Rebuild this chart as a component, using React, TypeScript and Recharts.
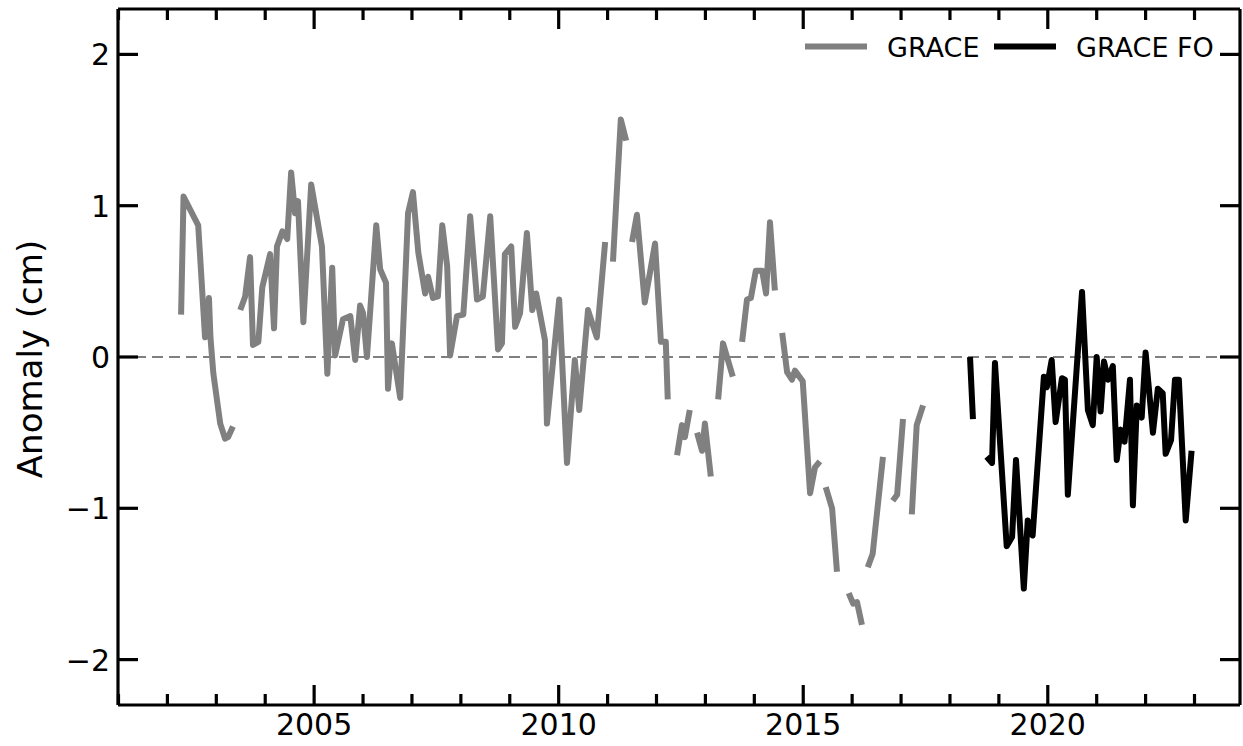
import { LineChart, Line, XAxis, YAxis, ReferenceLine, Legend, Label } from 'recharts'

const FONT = 'DejaVu Sans, Verdana, sans-serif'
const GREY = '#808080'
const MAJOR = 20
const MINOR = 11
const TICK_W = 3.2
const LINE_W = 6

// GRACE anomaly (cm), one array per unbroken run of months
const graceSegments: [number, number][][] = [
  [[2002.28, 0.28], [2002.33, 1.06], [2002.63, 0.87], [2002.77, 0.13], [2002.85, 0.39], [2002.88, 0.13],
    [2002.94, -0.11], [2003.08, -0.44], [2003.18, -0.54], [2003.24, -0.53], [2003.34, -0.46]],
  [[2003.49, 0.31], [2003.59, 0.40], [2003.69, 0.66], [2003.75, 0.08], [2003.86, 0.10], [2003.94, 0.46],
    [2004.10, 0.68], [2004.18, 0.19], [2004.24, 0.73], [2004.35, 0.83], [2004.45, 0.78], [2004.53, 1.22],
    [2004.61, 0.95], [2004.67, 1.03], [2004.78, 0.23], [2004.94, 1.14], [2005.16, 0.73], [2005.27, -0.11],
    [2005.37, 0.59], [2005.43, 0.01], [2005.59, 0.25], [2005.74, 0.27], [2005.84, -0.02], [2005.94, 0.34],
    [2006.00, 0.29], [2006.08, 0.00], [2006.27, 0.87], [2006.35, 0.58], [2006.47, 0.49], [2006.51, -0.21],
    [2006.59, 0.09], [2006.76, -0.27], [2006.92, 0.95], [2007.02, 1.09], [2007.13, 0.69], [2007.27, 0.42],
    [2007.33, 0.53], [2007.43, 0.39], [2007.53, 0.40], [2007.62, 0.87], [2007.72, 0.60], [2007.78, 0.01],
    [2007.92, 0.27], [2008.05, 0.28], [2008.19, 0.93], [2008.33, 0.38], [2008.45, 0.40], [2008.60, 0.93],
    [2008.76, 0.05], [2008.84, 0.09], [2008.90, 0.68], [2009.03, 0.73], [2009.11, 0.20], [2009.21, 0.29],
    [2009.35, 0.82], [2009.46, 0.31], [2009.54, 0.42], [2009.72, 0.11], [2009.76, -0.44], [2010.01, 0.38],
    [2010.17, -0.70], [2010.33, -0.02], [2010.42, -0.35], [2010.60, 0.31], [2010.78, 0.13], [2010.95, 0.76]],
  [[2011.11, 0.63], [2011.27, 1.57], [2011.38, 1.43]],
  [[2011.50, 0.76], [2011.60, 0.94], [2011.76, 0.36], [2011.97, 0.75], [2012.09, 0.10], [2012.19, 0.10],
    [2012.23, -0.28]],
  [[2012.42, -0.65], [2012.52, -0.45], [2012.58, -0.53], [2012.68, -0.35]],
  [[2012.83, -0.50], [2012.93, -0.62], [2012.99, -0.44], [2013.11, -0.79]],
  [[2013.26, -0.28], [2013.36, 0.09], [2013.56, -0.13]],
  [[2013.75, 0.10], [2013.85, 0.38], [2013.93, 0.39], [2014.03, 0.57], [2014.16, 0.57], [2014.24, 0.42],
    [2014.32, 0.89], [2014.42, 0.44]],
  [[2014.57, 0.16], [2014.67, -0.10], [2014.77, -0.15], [2014.83, -0.09], [2014.99, -0.16], [2015.14, -0.90],
    [2015.24, -0.73], [2015.34, -0.69]],
  [[2015.46, -0.86], [2015.59, -1.00], [2015.69, -1.42]],
  [[2015.93, -1.56], [2016.02, -1.63], [2016.10, -1.62], [2016.20, -1.77]],
  [[2016.32, -1.39], [2016.42, -1.30], [2016.63, -0.66]],
  [[2016.83, -0.95], [2016.92, -0.91], [2017.04, -0.41]],
  [[2017.22, -1.04], [2017.32, -0.45], [2017.45, -0.32]],
]

// GRACE Follow-On anomaly (cm)
const graceFoSegments: [number, number][][] = [
  [[2018.41, 0.00], [2018.47, -0.41]],
  [[2018.75, -0.66], [2018.86, -0.70], [2018.92, -0.04], [2019.16, -1.25], [2019.27, -1.19], [2019.35, -0.68],
    [2019.51, -1.53], [2019.59, -1.08], [2019.69, -1.18], [2019.92, -0.13], [2019.98, -0.20], [2020.08, -0.02],
    [2020.16, -0.43], [2020.29, -0.14], [2020.35, -0.15], [2020.41, -0.91], [2020.70, 0.43], [2020.82, -0.35],
    [2020.92, -0.45], [2021.00, 0.00], [2021.08, -0.36], [2021.15, -0.03], [2021.23, -0.15], [2021.33, -0.06],
    [2021.41, -0.68], [2021.49, -0.48], [2021.57, -0.56], [2021.68, -0.15], [2021.74, -0.98], [2021.82, -0.32],
    [2021.92, -0.40], [2022.00, 0.03], [2022.15, -0.50], [2022.25, -0.21], [2022.35, -0.24], [2022.41, -0.64],
    [2022.52, -0.55], [2022.60, -0.15], [2022.68, -0.15], [2022.82, -1.08], [2022.94, -0.62]],
]

const yearTicks = [2001, 2002, 2003, 2004, 2005, 2006, 2007, 2008, 2009, 2010, 2011, 2012,
  2013, 2014, 2015, 2016, 2017, 2018, 2019, 2020, 2021, 2022, 2023]
const valueTicks = [-2, -1, 0, 1, 2]
const seriesNames = ['GRACE', 'GRACE FO']
const seriesColors = [GREY, '#000000']

// null rows between runs so the line breaks at missing months
function joinSegments(segs: [number, number][][]) {
  const rows: { t: number; v: number | null }[] = []
  segs.forEach((seg, i) => {
    if (i > 0) {
      const prev = segs[i - 1]
      rows.push({ t: (prev[prev.length - 1][0] + seg[0][0]) / 2, v: null })
    }
    seg.forEach(([t, v]) => rows.push({ t, v }))
  })
  return rows
}

const graceData = joinSegments(graceSegments)
const graceFoData = joinSegments(graceFoSegments)

const fmt = (v: number) => (v < 0 ? '\u2212' + Math.abs(v) : String(v))

function BottomTick({ x, y, payload }: any) {
  const major = payload.value % 5 === 0
  return (
    <g>
      <line x1={x} y1={y} x2={x} y2={y - (major ? MAJOR : MINOR)} stroke="#000" strokeWidth={TICK_W} />
      {major && (
        <text x={x} y={y + 30} textAnchor="middle" fontSize={30} fontFamily={FONT} fill="#000">
          {payload.value}
        </text>
      )}
    </g>
  )
}

function TopTick({ x, y, payload }: any) {
  const major = payload.value % 5 === 0
  return <line x1={x} y1={y} x2={x} y2={y + (major ? MAJOR : MINOR)} stroke="#000" strokeWidth={TICK_W} />
}

function LeftTick({ x, y, payload }: any) {
  return (
    <g>
      <line x1={x} y1={y} x2={x + MAJOR} y2={y} stroke="#000" strokeWidth={TICK_W} />
      <text x={x - 8} y={y + 11} textAnchor="end" fontSize={30} fontFamily={FONT} fill="#000">
        {fmt(payload.value)}
      </text>
    </g>
  )
}

function RightTick({ x, y }: any) {
  return <line x1={x} y1={y} x2={x - MAJOR} y2={y} stroke="#000" strokeWidth={TICK_W} />
}

function LegendBox() {
  const itemX = [10, 199]
  return (
    <svg width={430} height={42}>
      {seriesNames.map((name, i) => (
        <g key={name}>
          <line x1={itemX[i]} y1={20.5} x2={itemX[i] + 62} y2={20.5} stroke={seriesColors[i]} strokeWidth={LINE_W} />
          <text x={itemX[i] + 82} y={30.5} fontSize={27} fontFamily={FONT} fill="#000">{name}</text>
        </g>
      ))}
    </svg>
  )
}

const axisLine = { stroke: '#000', strokeWidth: TICK_W }
const xDomain: [number, number] = [2000.99, 2023.93]
const yDomain: [number, number] = [-2.3, 2.3]

export default function App() {
  return (
    <div style={{ position: 'absolute', left: 0, top: 0, background: '#fff' }}>
      <LineChart width={1243} height={746} margin={{ top: 8, right: 0, bottom: 0, left: 0 }}>
        <XAxis
          xAxisId="b"
          type="number"
          dataKey="t"
          orientation="bottom"
          domain={xDomain}
          allowDataOverflow
          ticks={yearTicks}
          interval={0}
          height={41}
          tickSize={0}
          tickMargin={0}
          tickLine={false}
          axisLine={axisLine}
          tick={<BottomTick />}
        />
        <XAxis
          xAxisId="t"
          type="number"
          dataKey="t"
          orientation="top"
          domain={xDomain}
          allowDataOverflow
          ticks={yearTicks}
          interval={0}
          height={1}
          tickSize={0}
          tickMargin={0}
          tickLine={false}
          axisLine={axisLine}
          tick={<TopTick />}
        />
        <YAxis
          yAxisId="l"
          type="number"
          orientation="left"
          domain={yDomain}
          allowDataOverflow
          ticks={valueTicks}
          interval={0}
          width={118}
          tickSize={0}
          tickMargin={0}
          tickLine={false}
          axisLine={axisLine}
          tick={<LeftTick />}
        >
          <Label
            content={() => (
              <text
                x={30}
                y={359}
                transform="rotate(-90, 30, 359)"
                textAnchor="middle"
                dominantBaseline="central"
                fontSize={34}
                fontFamily={FONT}
                fill="#000"
              >
                Anomaly (cm)
              </text>
            )}
          />
        </YAxis>
        <YAxis
          yAxisId="r"
          type="number"
          orientation="right"
          domain={yDomain}
          allowDataOverflow
          ticks={valueTicks}
          interval={0}
          width={3}
          tickSize={0}
          tickMargin={0}
          tickLine={false}
          axisLine={axisLine}
          tick={<RightTick />}
        />
        <ReferenceLine xAxisId="b" yAxisId="l" y={0} stroke={GREY} strokeWidth={2.2} strokeDasharray="11 6" />
        <Line
          xAxisId="b"
          yAxisId="l"
          data={graceData}
          dataKey="v"
          name={seriesNames[0]}
          stroke={seriesColors[0]}
          strokeWidth={LINE_W}
          strokeLinejoin="round"
          strokeLinecap="butt"
          dot={false}
          connectNulls={false}
          isAnimationActive={false}
        />
        <Line
          xAxisId="t"
          yAxisId="r"
          data={graceFoData}
          dataKey="v"
          name={seriesNames[1]}
          stroke={seriesColors[1]}
          strokeWidth={LINE_W}
          strokeLinejoin="round"
          strokeLinecap="butt"
          dot={false}
          connectNulls={false}
          isAnimationActive={false}
        />
        <Legend
          layout="horizontal"
          verticalAlign="middle"
          align="center"
          wrapperStyle={{ left: 795, top: 26, width: 430, height: 42 }}
          content={() => <LegendBox />}
        />
      </LineChart>
    </div>
  )
}
